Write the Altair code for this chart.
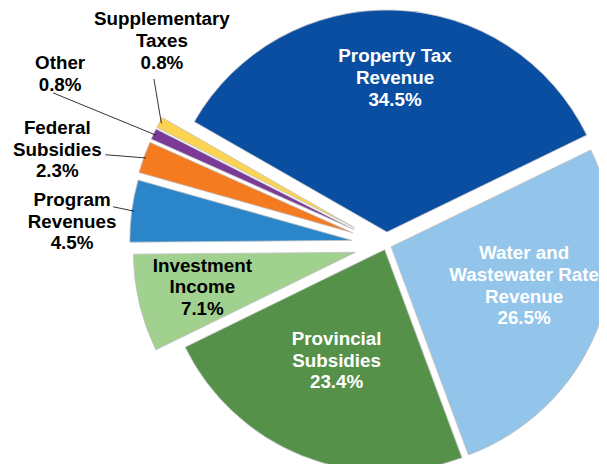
import math
import altair as alt
import pandas as pd

# ---- data ----
categories = [
    "Property Tax\nRevenue",
    "Water and\nWastewater Rate\nRevenue",
    "Provincial\nSubsidies",
    "Investment\nIncome",
    "Program\nRevenues",
    "Federal\nSubsidies",
    "Other",
    "Supplementary\nTaxes",
]
shares = [34.5, 26.5, 23.4, 7.1, 4.5, 2.3, 0.8, 0.8]

# ---- style / layout ----
slice_colors = ["#0A4EA2", "#93C4EA", "#559149", "#A0D18E",
                "#2A86C9", "#F47B20", "#7B3A96", "#FDD452"]
text_colors = ["white", "white", "white", "black",
               "black", "black", "black", "black"]
explode = [13, 5, 5, 32, 35, 36, 36, 36]
# label placement: (angle in degrees, distance as fraction of radius) from slice apex
label_polar = [(3.0, 0.695), (106.3, 0.624), (203.4, 0.545), (257.1, 0.707),
               (273.8, 1.263), (285.7, 1.382), (297.9, 1.498), (314.1, 1.21)]
# leader line start, relative to label centre (None = inside label)
leader_from = [None, None, None, None, (41, -15), (48, 5), (-7, 19), (-8, 38)]

W, H = 591, 456
CX, CY = 378.5, 237.0
R = 222
START = math.radians(-60.2)
FS = 18.8
LH = 21.7

total = sum(shares)
rows = []
acc = 0.0
for i, (cat, v) in enumerate(zip(categories, shares)):
    t0 = START + acc / total * 2 * math.pi
    acc += v
    t1 = START + acc / total * 2 * math.pi
    mid = (t0 + t1) / 2
    ax = CX + explode[i] * math.sin(mid)
    ay = CY - explode[i] * math.cos(mid)
    la, lf = label_polar[i]
    lx = ax + lf * R * math.sin(math.radians(la))
    ly = ay - lf * R * math.cos(math.radians(la))
    label = f"{cat}\n{v:.1f}%"
    nlines = label.count("\n") + 1
    row = dict(cat=cat, share=v, t0=t0, t1=t1, ax=ax, ay=ay, lx=lx,
               ly=ly - (nlines - 1) * LH / 2,
               label=label, tcolor=text_colors[i], order=i)
    if leader_from[i] is not None:
        row["sx"] = lx + leader_from[i][0]
        row["sy"] = ly + leader_from[i][1]
        row["ex"] = ax + R * 0.99 * math.sin(mid)
        row["ey"] = ay - R * 0.99 * math.cos(mid)
    rows.append(row)
df = pd.DataFrame(rows)
leaders = df.dropna(subset=["sx"])

arcs = alt.Chart(df).mark_arc(stroke="#BFBFBF", strokeWidth=0.8).encode(
    x=alt.X("ax:Q", scale=None, axis=None),
    y=alt.Y("ay:Q", scale=None, axis=None),
    theta=alt.Theta("t0:Q", scale=None),
    theta2="t1:Q",
    radius=alt.value(R),
    color=alt.Color("cat:N", scale=alt.Scale(domain=categories, range=slice_colors), legend=None),
)

lines = alt.Chart(leaders).mark_rule(color="#000000", strokeWidth=0.8).encode(
    x=alt.X("sx:Q", scale=None, axis=None),
    y=alt.Y("sy:Q", scale=None, axis=None),
    x2="ex:Q",
    y2="ey:Q",
)

texts = alt.Chart(df).mark_text(
    font="Liberation Sans", fontWeight="bold", fontSize=FS,
    lineBreak="\n", lineHeight=LH, align="center", baseline="middle",
).encode(
    x=alt.X("lx:Q", scale=None, axis=None),
    y=alt.Y("ly:Q", scale=None, axis=None),
    text="label:N",
    color=alt.Color("tcolor:N", scale=None),
)

chart = alt.layer(arcs, lines, texts).properties(
    width=W, height=H, padding=0,
    autosize=alt.AutoSizeParams(type="none"),
).configure_view(stroke=None)

chart.save("out.html", embed_options={"renderer": "svg", "actions": False})
